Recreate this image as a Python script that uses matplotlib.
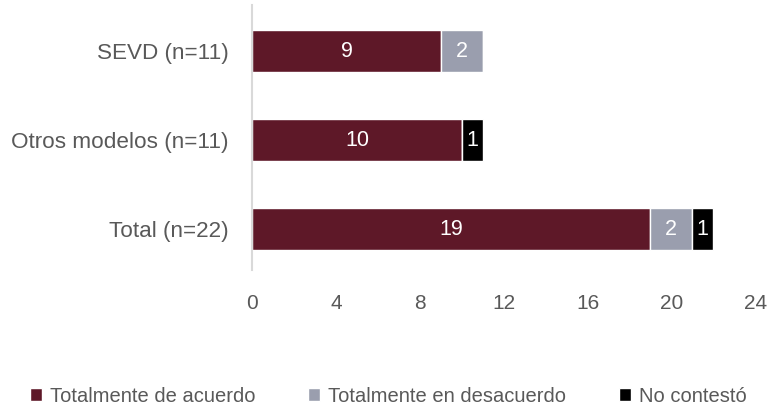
import matplotlib
matplotlib.use('Agg')
import matplotlib.pyplot as plt
import numpy as np

# Datos del gráfico
categorias = ['SEVD (n=11)', 'Otros modelos (n=11)', 'Total (n=22)']
de_acuerdo = [9, 10, 19]
en_desacuerdo = [2, 0, 2]
no_contesto = [0, 1, 1]
series = ['Totalmente de acuerdo', 'Totalmente en desacuerdo', 'No contestó']
colores = ['#5E1828', '#9A9EAE', '#000000']
ticks_x = [0, 4, 8, 12, 16, 20, 24]

plt.rcParams['font.family'] = ['Liberation Sans', 'DejaVu Sans']

fig = plt.figure(figsize=(7.69, 4.11), dpi=100)
ax = fig.add_axes([0.328, 0.343, 0.654, 0.645])

y = np.arange(len(categorias))
izquierda = np.zeros(len(categorias))
for valores, nombre, color in zip([de_acuerdo, en_desacuerdo, no_contesto], series, colores):
    valores = np.array(valores, dtype=float)
    barras = ax.barh(y, valores, left=izquierda, height=0.47, color=color,
                     edgecolor='white', linewidth=1, label=nombre)
    for b, v in zip(barras, valores):
        if v > 0:
            ax.text(b.get_x() + b.get_width() / 2, b.get_y() + b.get_height() / 2,
                    f'{int(v)}', ha='center', va='center', color='white', fontsize=15.5)
    izquierda += valores

ax.set_xlim(0, 24)
ax.set_ylim(2.46, -0.52)
ax.set_yticks(y)
ax.set_yticklabels(categorias, fontsize=16.2, color='#595959')
ax.set_xticks(ticks_x)
ax.set_xticklabels([str(t) for t in ticks_x], fontsize=15, color='#595959')
ax.tick_params(length=0)
ax.tick_params(axis='y', pad=17)
ax.tick_params(axis='x', pad=17)
for lado in ['top', 'right', 'bottom']:
    ax.spines[lado].set_visible(False)
ax.spines['left'].set_color('#D9D9D9')
ax.spines['left'].set_linewidth(1.5)

fig.legend(loc='center', bbox_to_anchor=(0.505, 0.036), ncol=3, frameon=False,
           fontsize=14.5, handlelength=0.6, handleheight=0.6, handletextpad=0.4,
           columnspacing=2.6, labelcolor='#595959')

fig.savefig('out.png', dpi=100)
